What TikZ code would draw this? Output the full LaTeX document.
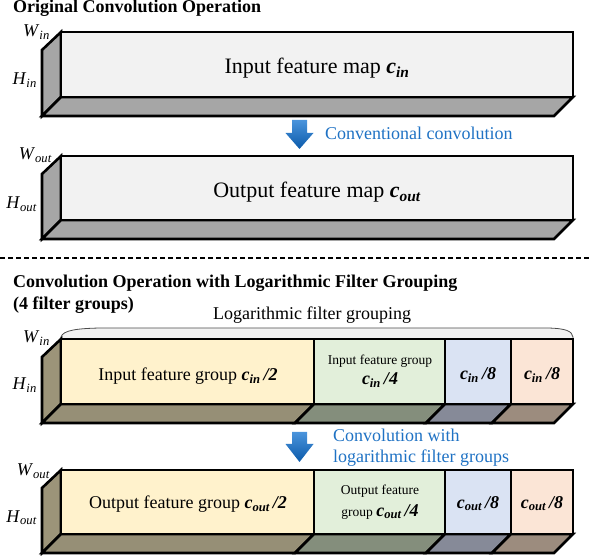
\documentclass[tikz,border=0pt]{standalone}
\usepackage{fontspec}
\setmainfont{Liberation Serif}
\definecolor{frontgray}{HTML}{F2F2F2}
\definecolor{sidegray}{HTML}{A6A6A6}
\definecolor{khaki}{HTML}{9C9479}
\definecolor{fA}{HTML}{FFF2CC}
\definecolor{fB}{HTML}{E2EFDA}
\definecolor{fC}{HTML}{DAE3F3}
\definecolor{fD}{HTML}{FBE5D6}
\definecolor{bA}{HTML}{968F76}
\definecolor{bB}{HTML}{848E7C}
\definecolor{bC}{HTML}{868A98}
\definecolor{bD}{HTML}{9C8C7E}
\definecolor{textblue}{HTML}{1F72C4}
\definecolor{arrtop}{HTML}{4A94DC}
\definecolor{arrbot}{HTML}{0B5AAA}
\newcommand\cv[2]{{\bfseries\itshape #1\textsubscript{#2}}}
\newcommand\lbl[2]{\textit{#1}\textsubscript{\itshape #2}}
\newcommand\sidef[3]{\filldraw[fill=#3, edge] (61,#1) -- (42,#1+18) -- (42,#2+19) -- (61,#2) -- cycle;}
\newcommand\bseg[4]{\filldraw[fill=#4, edge] (#1,#3) -- (#1-19,#3+19) -- (#2-19,#3+19) -- (#2,#3) -- cycle;}
\newcommand\fseg[5]{\filldraw[fill=#5, edge] (#1,#3) rectangle (#2,#4);}
\newcommand\bluearrow[3]{\shade[top color=arrtop, bottom color=arrbot] (292,#1) -- (307,#1) -- (307,#2) -- (313.5,#2) -- (299.5,#3) -- (285.5,#2) -- (292,#2) -- cycle;}
\tikzset{
  edge/.style={line width=2.6pt, line join=miter},
  title/.style={font=\fontsize{18}{22}\selectfont\bfseries, anchor=base west, inner sep=0pt},
  big/.style={font=\fontsize{22}{26}\selectfont, anchor=base, inner sep=0pt},
  mid/.style={font=\fontsize{18}{22}\selectfont, anchor=base, inner sep=0pt},
  small/.style={font=\fontsize{13.5}{16}\selectfont, anchor=base, inner sep=0pt},
  dimlbl/.style={font=\fontsize{18}{22}\selectfont, anchor=base east, inner sep=0pt},
  bluetxt/.style={font=\fontsize{18}{22}\selectfont, text=textblue, anchor=base west, inner sep=0pt},
}
\begin{document}
\begin{tikzpicture}[x=1pt, y=-1pt]
\useasboundingbox (0,0) rectangle (590,556);
% ---------- titles ----------
\node[title] (t1) at (13,13) {Original Convolution Operation};
\node[title] (t2) at (13,288) {Convolution Operation with Logarithmic Filter Grouping};
\node[title] (t3) at (13,310) {(4 filter groups)};
% ---------- box 1 ----------
\sidef{32}{97}{sidegray}
\bseg{61}{573}{97}{sidegray}
\fseg{61}{573}{32}{97}{frontgray}
\node[big] (m1) at (317,74) {Input feature map \cv{c}{in}};
\node[dimlbl] (w1) at (50,37) {\lbl{W}{in}};
\node[dimlbl] (h1) at (37,85) {\lbl{H}{in}};
% arrow 1
\bluearrow{120}{133}{149}
\node[bluetxt] (a1) at (325,140) {Conventional convolution};
% ---------- box 2 ----------
\sidef{156}{220}{sidegray}
\bseg{61}{573}{220}{sidegray}
\fseg{61}{573}{156}{220}{frontgray}
\node[big] (m2) at (317,198) {Output feature map \cv{c}{out}};
\node[dimlbl] (w2) at (52,160) {\lbl{W}{out}};
\node[dimlbl] (h2) at (37,209) {\lbl{H}{out}};
% ---------- separator ----------
\draw[line width=1.4pt, dash pattern=on 5pt off 3pt] (0,258) -- (590,258);
% ---------- brace ----------
\filldraw[fill=gray!10, draw=black!70, line width=0.8pt] (61,339) -- (61,337) .. controls (63,330) and (78,328.5) .. (100,328) -- (548,328) .. controls (566,328.5) and (572,331) .. (573,337) -- (573,339) -- cycle;
\node[mid] (lg) at (312,320) {Logarithmic filter grouping};
% ---------- box 3 ----------
\sidef{339}{404}{khaki}
\bseg{61}{314}{404}{bA}
\bseg{314}{445}{404}{bB}
\bseg{445}{511}{404}{bC}
\bseg{511}{573}{404}{bD}
\fseg{61}{314}{339}{404}{fA}
\fseg{314}{445}{339}{404}{fB}
\fseg{445}{511}{339}{404}{fC}
\fseg{511}{573}{339}{404}{fD}
\node[mid] (g1) at (188,381) {Input feature group \cv{c}{in}\,\textbf{\textit{/2}}};
\node[small] (g2a) at (380,365) {Input feature group};
\node[mid] (g2b) at (380,385) {\cv{c}{in}\,\textbf{\textit{/4}}};
\node[mid] (g3) at (478,380) {\cv{c}{in}\,\textbf{\textit{/8}}};
\node[mid] (g4) at (542,380) {\cv{c}{in}\,\textbf{\textit{/8}}};
\node[dimlbl] (w3) at (50,343) {\lbl{W}{in}};
\node[dimlbl] (h3) at (37,390) {\lbl{H}{in}};
% arrow 2
\bluearrow{432}{444}{462}
\node[bluetxt] (a2) at (333,442) {Convolution with};
\node[bluetxt] (a3) at (333,463) {logarithmic filter groups};
% ---------- box 4 ----------
\sidef{470}{534}{khaki}
\bseg{61}{314}{534}{bA}
\bseg{314}{445}{534}{bB}
\bseg{445}{511}{534}{bC}
\bseg{511}{573}{534}{bD}
\fseg{61}{314}{470}{534}{fA}
\fseg{314}{445}{470}{534}{fB}
\fseg{445}{511}{470}{534}{fC}
\fseg{511}{573}{470}{534}{fD}
\node[mid] (o1) at (188,509) {Output feature group \cv{c}{out}\,\textbf{\textit{/2}}};
\node[small] (o2a) at (380,495) {Output feature};
\node[small] (o2b) at (380,516) {group \fontsize{18}{22}\selectfont\cv{c}{out}\,\textbf{\textit{/4}}};
\node[mid] (o3) at (478,508) {\cv{c}{out}\,\textbf{\textit{/8}}};
\node[mid] (o4) at (542,508) {\cv{c}{out}\,\textbf{\textit{/8}}};
\node[dimlbl] (w4) at (50,476) {\lbl{W}{out}};
\node[dimlbl] (h4) at (37,522) {\lbl{H}{out}};
\end{tikzpicture}
\end{document}
